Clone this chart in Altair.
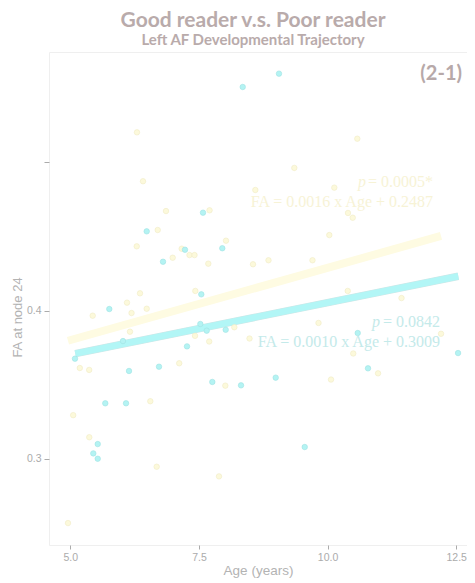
import altair as alt
import pandas as pd

# Poor reader (cyan) points
poor_age = [9.056, 8.351, 6.485, 7.229, 6.802, 7.579, 7.954, 7.546, 5.758, 5.091,
            6.141, 6.724, 7.268, 5.680, 6.083, 5.533, 5.447, 5.533, 7.527, 7.651,
            8.020, 7.760, 8.318, 8.992, 9.556, 10.586, 12.536, 10.786, 6.024]
poor_fa = [0.5598, 0.5508, 0.4534, 0.4410, 0.4329, 0.4660, 0.4420, 0.4109, 0.4010, 0.3675,
           0.3592, 0.3621, 0.3758, 0.3374, 0.3374, 0.3099, 0.3036, 0.3000, 0.3909, 0.3864,
           0.3870, 0.3518, 0.3495, 0.3547, 0.3079, 0.3848, 0.3713, 0.3610, 0.3794]

# Good reader (yellow) points
good_age = [6.296, 6.413, 6.860, 6.699, 6.291, 7.165, 7.317, 7.414, 6.990, 6.355,
            9.354, 8.596, 7.706, 10.034, 8.026, 7.682, 8.551, 8.852, 9.707, 7.430,
            10.578, 10.131, 10.397, 10.489, 6.102, 5.435, 6.190, 6.485, 5.367, 5.185,
            7.117, 6.555, 5.056, 5.369, 6.679, 4.955, 7.424, 7.700, 8.188, 8.483,
            8.013, 9.824, 7.890, 10.067, 11.437, 12.205, 10.499, 10.981, 10.392, 6.160]
good_fa = [0.5202, 0.4872, 0.4671, 0.4543, 0.4433, 0.4417, 0.4374, 0.4374, 0.4356, 0.4116,
           0.4962, 0.4813, 0.4676, 0.4509, 0.4471, 0.4316, 0.4312, 0.4339, 0.4339, 0.4132,
           0.5159, 0.4829, 0.4658, 0.4626, 0.4053, 0.3965, 0.3983, 0.4012, 0.3599, 0.3612,
           0.3644, 0.3388, 0.3294, 0.3145, 0.2946, 0.2566, 0.3829, 0.3791, 0.3887, 0.3811,
           0.3493, 0.3916, 0.2881, 0.3534, 0.4084, 0.3843, 0.3710, 0.3576, 0.4132, 0.3857]

# Fitted trajectories (endpoints)
good_line_age = [4.955, 12.205]
good_line_fa = [0.3796, 0.4503]
poor_line_age = [5.097, 12.541]
poor_line_fa = [0.3709, 0.4231]

# Annotations
good_ann = {"p": "p", "p_rest": "= 0.0005*", "eq": "FA = 0.0016 x Age + 0.2487",
            "x": 12.05, "y_p": 0.4835, "y_eq": 0.4696, "p_dx": -67}
poor_ann = {"p": "p", "p_rest": "= 0.0842", "eq": "FA = 0.0010 x Age + 0.3009",
            "x": 12.186, "y_p": 0.3887, "y_eq": 0.3756, "p_dx": -60}

x_ticks = [5.0, 7.5, 10.0, 12.5]
y_ticks = [0.3, 0.4, 0.5]

CYAN = "#b4f3f3"
CYAN_STROKE = "#9fe3e3"
YEL = "#fcf9db"
YEL_STROKE = "#f0ebc6"
GREY = "#ababab"

xs = alt.Scale(domain=[4.586, 12.71], nice=False, zero=False)
ys = alt.Scale(domain=[0.2418, 0.5744], nice=False, zero=False)

x_enc = alt.X("age:Q", scale=xs,
              axis=alt.Axis(values=x_ticks, format=".1f", title="Age (years)",
                            domain=False, grid=False, tickColor=GREY, tickSize=4,
                            labelColor=GREY, labelFontSize=10.5, labelFont="Liberation Sans",
                            titleColor="#b3b3b3", titleFontSize=13.5, titleFont="Liberation Sans",
                            titleFontWeight="normal", labelPadding=3, titlePadding=1))
y_enc = alt.Y("fa:Q", scale=ys,
              axis=alt.Axis(values=y_ticks, title="FA at node 24",
                            labelExpr="datum.value > 0.45 ? '' : format(datum.value, '.1f')",
                            domain=False, grid=False, tickColor=GREY, tickSize=5,
                            labelColor=GREY, labelFontSize=10.5, labelFont="Liberation Sans",
                            titleColor="#b3b3b3", titleFontSize=13, titleFont="Liberation Sans",
                            titleFontWeight="normal", labelPadding=3,
                            titleX=-32, titleY=265, titleBaseline="middle", titleAlign="center"))

good_df = pd.DataFrame({"age": good_age, "fa": good_fa})
poor_df = pd.DataFrame({"age": poor_age, "fa": poor_fa})
gl_df = pd.DataFrame({"age": good_line_age, "fa": good_line_fa})
pl_df = pd.DataFrame({"age": poor_line_age, "fa": poor_line_fa})

good_pts = alt.Chart(good_df).mark_circle(size=30, color=YEL, opacity=1,
                                          stroke=YEL_STROKE, strokeWidth=0.6).encode(x=x_enc, y=y_enc)
poor_pts = alt.Chart(poor_df).mark_circle(size=30, color=CYAN, opacity=1,
                                          stroke=CYAN_STROKE, strokeWidth=0.6).encode(x=x_enc, y=y_enc)

good_line = alt.Chart(gl_df).mark_line(color="#fefbe2", strokeWidth=8, strokeCap="butt").encode(x=x_enc, y=y_enc)
poor_line_edge = alt.Chart(pl_df).mark_line(color="#cde6e6", strokeWidth=7.5, strokeCap="butt").encode(x=x_enc, y=y_enc)
poor_line = alt.Chart(pl_df).mark_line(color="#b2f6f6", strokeWidth=6.5, strokeCap="butt").encode(x=x_enc, y=y_enc)


def ann_layers(a, color):
    rows = pd.DataFrame({"age": [a["x"]], "fa_p": [a["y_p"]], "fa_eq": [a["y_eq"]],
                         "p": [a["p"]], "rest": [a["p_rest"]], "eq": [a["eq"]]})
    base = alt.Chart(rows)
    t_rest = base.mark_text(align="right", baseline="alphabetic", font="Liberation Serif",
                            fontSize=16, color=color).encode(
        x=alt.X("age:Q", scale=xs), y=alt.Y("fa_p:Q", scale=ys), text="rest:N")
    t_p = base.mark_text(align="right", baseline="alphabetic", font="Liberation Serif",
                         fontSize=16, fontStyle="italic", color=color, dx=a["p_dx"]).encode(
        x=alt.X("age:Q", scale=xs), y=alt.Y("fa_p:Q", scale=ys), text="p:N")
    t_eq = base.mark_text(align="right", baseline="alphabetic", font="Liberation Serif",
                          fontSize=16, color=color).encode(
        x=alt.X("age:Q", scale=xs), y=alt.Y("fa_eq:Q", scale=ys), text="eq:N")
    return [t_rest, t_p, t_eq]


panel_label = alt.Chart(pd.DataFrame({"t": ["(2-1)"]})).mark_text(
    align="right", baseline="middle", font="Lato", fontWeight="bold", fontSize=20,
    color="#b7a9a9").encode(x=alt.value(413), y=alt.value(22), text="t:N")

chart = alt.layer(
    good_line, poor_line_edge, poor_line, good_pts, poor_pts,
    *ann_layers(good_ann, "#f7f3d6"), *ann_layers(poor_ann, "#c4eaea"),
    panel_label,
).properties(
    width=418, height=493,
    title=alt.TitleParams(text="Good reader v.s. Poor reader",
                          subtitle="Left AF Developmental Trajectory",
                          font="Lato", fontSize=21, fontWeight="bold", color="#b9abab",
                          subtitleFont="Lato", subtitleFontSize=15, subtitleFontWeight="bold",
                          subtitleColor="#b9abab", anchor="middle", offset=4,
                          subtitlePadding=2, dx=-5),
    autosize=alt.AutoSizeParams(type="none"),
    padding={"left": 41, "top": 44, "right": 0, "bottom": 33},
).configure_view(stroke="#efefef", strokeWidth=1)

chart.save("out.html", embed_options={"renderer": "svg", "actions": False})
